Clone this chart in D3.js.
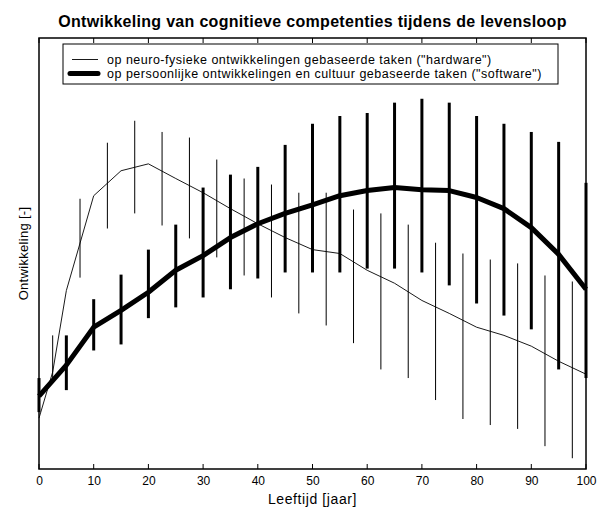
<!DOCTYPE html>
<meta charset="utf-8">
<script src="https://d3js.org/d3.v7.min.js"></script>
<style>
  body { margin: 0; background: #fff; }
  text { font-family: "Liberation Sans", Arial, sans-serif; fill: #000; }
  .title { font-size: 16px; font-weight: bold; letter-spacing: 0.3px; }
  .legend-text { font-size: 12.5px; letter-spacing: 0.5px; }
  .tick-label { font-size: 12px; }
  .axis-label { font-size: 14px; letter-spacing: 0.6px; }
</style>
<div id="chart"></div>
<script>

// software (persoonlijke ontwikkeling) - thick line, bars every 5 years
var swAges = [0, 5, 10, 15, 20, 25, 30, 35, 40, 45, 50, 55, 60, 65, 70, 75, 80, 85, 90, 95, 100];
var swMean = [16.9, 24.1, 32.9, 36.8, 41.0, 46.1, 49.5, 53.7, 56.9, 59.3, 61.3, 63.4, 64.6, 65.3, 64.8, 64.6, 63.0, 60.4, 56.0, 49.8, 41.7];
var swLow  = [13.2, 18.3, 27.5, 28.9, 35.0, 37.5, 39.8, 41.7, 44.2, 45.6, 45.6, 45.6, 46.5, 46.5, 45.6, 42.6, 38.4, 35.6, 32.4, 23.1, 21.1];
var swHigh = [21.1, 31.0, 39.4, 45.1, 50.9, 56.7, 65.3, 68.3, 70.1, 75.2, 80.1, 81.9, 82.6, 85.0, 85.9, 85.0, 81.9, 80.1, 78.2, 75.9, 66.4];

// hardware (neuro-fysieke ontwikkeling) - thin line
var hwAges = [0, 2.5, 5, 10, 15, 20, 25, 30, 35, 40, 45, 50, 55, 60, 65, 70, 75, 80, 85, 90, 95, 100];
var hwMean = [11.8, 22.5, 41.4, 63.4, 69.2, 70.8, 67.4, 64.1, 60.4, 56.9, 53.7, 50.9, 50.0, 46.1, 43.1, 39.1, 36.1, 32.9, 31.0, 28.5, 25.0, 22.0];

// hardware spreiding, drawn between the software bars
var hwBarAges = [2.5, 7.5, 12.5, 17.5, 22.5, 27.5, 32.5, 37.5, 42.5, 47.5, 52.5, 57.5, 62.5, 67.5, 72.5, 77.5, 82.5, 87.5, 92.5, 97.5];
var hwLow  = [20.4, 44.4, 55.8, 59.3, 56.5, 53.5, 49.1, 44.9, 39.8, 36.1, 33.3, 29.2, 23.1, 21.1, 16.0, 11.6, 10.2, 9.3, 5.3, 2.5];
var hwHigh = [31.0, 62.7, 75.7, 80.8, 78.2, 76.9, 71.8, 67.4, 66.0, 64.1, 64.1, 60.2, 59.3, 56.7, 52.5, 50.0, 48.6, 47.7, 44.9, 43.5];

var xTicks = [0, 10, 20, 30, 40, 50, 60, 70, 80, 90, 100];

var legendLabels = [
  'op neuro-fysieke ontwikkelingen gebaseerde taken ("hardware")',
  'op persoonlijke ontwikkelingen en cultuur gebaseerde taken ("software")'
];

var width = 605, height = 509;
var margin = {top: 38, right: 19, bottom: 40, left: 39};

var svg = d3.select("#chart")
  .append("svg")
    .attr("width", width)
    .attr("height", height);

var x = d3.scaleLinear()
  .domain([0, 100])
  .range([margin.left, width - margin.right]);

var y = d3.scaleLinear()
  .domain([0, 100])
  .range([height - margin.bottom, margin.top]);

// title
svg.append("text")
  .classed("title", true)
  .attr("x", (x(0) + x(100)) / 2)
  .attr("y", 27)
  .attr("text-anchor", "middle")
  .text("Ontwikkeling van cognitieve competenties tijdens de levensloop");

// bottom axis with labels
var xAxis = d3.axisBottom(x).tickValues(xTicks).tickSize(0).tickPadding(7);
var gx = svg.append("g")
  .attr("transform", "translate(0," + y(0) + ")")
  .call(xAxis);
gx.select(".domain").remove();
gx.selectAll("text").classed("tick-label", true).attr("font-size", null).attr("font-family", null);

// inner ticks, bottom and top
svg.append("g").selectAll("line")
  .data(xTicks)
  .enter().append("line")
    .attr("x1", function(d) { return x(d); })
    .attr("x2", function(d) { return x(d); })
    .attr("y1", y(0))
    .attr("y2", y(0) - 5)
    .attr("stroke", "#000");
svg.append("g").selectAll("line")
  .data(xTicks)
  .enter().append("line")
    .attr("x1", function(d) { return x(d); })
    .attr("x2", function(d) { return x(d); })
    .attr("y1", y(100))
    .attr("y2", y(100) + 5)
    .attr("stroke", "#000");

// hardware spread bars (thin)
svg.append("g").selectAll("line")
  .data(hwBarAges)
  .enter().append("line")
    .attr("x1", function(d) { return x(d); })
    .attr("x2", function(d) { return x(d); })
    .attr("y1", function(d, i) { return y(hwLow[i]); })
    .attr("y2", function(d, i) { return y(hwHigh[i]); })
    .attr("stroke", "#000")
    .attr("stroke-width", 1);

// hardware line
var hwLine = d3.line()
  .x(function(d, i) { return x(hwAges[i]); })
  .y(function(d) { return y(d); });
svg.append("path")
  .datum(hwMean)
  .attr("d", hwLine)
  .attr("fill", "none")
  .attr("stroke", "#000")
  .attr("stroke-width", 0.9);

// software spread bars (thick)
svg.append("g").selectAll("line")
  .data(swAges)
  .enter().append("line")
    .attr("x1", function(d) { return x(d); })
    .attr("x2", function(d) { return x(d); })
    .attr("y1", function(d, i) { return y(swLow[i]); })
    .attr("y2", function(d, i) { return y(swHigh[i]); })
    .attr("stroke", "#000")
    .attr("stroke-width", 3);

// software line
var swLine = d3.line()
  .x(function(d, i) { return x(swAges[i]); })
  .y(function(d) { return y(d); });
svg.append("path")
  .datum(swMean)
  .attr("d", swLine)
  .attr("fill", "none")
  .attr("stroke", "#000")
  .attr("stroke-width", 5)
  .attr("stroke-linejoin", "round");

// frame
svg.append("rect")
  .attr("x", x(0))
  .attr("y", y(100))
  .attr("width", x(100) - x(0))
  .attr("height", y(0) - y(100))
  .attr("fill", "none")
  .attr("stroke", "#000")
  .attr("stroke-width", 1.5);

// legend
var legend = svg.append("g").attr("transform", "translate(63,44)");
legend.append("rect")
  .attr("width", 495)
  .attr("height", 40)
  .attr("fill", "#fff")
  .attr("stroke", "#000")
  .attr("stroke-width", 1);

var legendItems = legend.selectAll(".item")
  .data(legendLabels)
  .enter().append("g")
    .attr("transform", function(d, i) { return "translate(0," + (15.5 + i * 14) + ")"; });

legendItems.append("line")
  .attr("x1", function(d, i) { return i ? 7 : 9; })
  .attr("x2", 35)
  .attr("stroke", "#000")
  .attr("stroke-width", function(d, i) { return i ? 5 : 0.9; })
  .attr("stroke-linecap", function(d, i) { return i ? "round" : "butt"; });

legendItems.append("text")
  .classed("legend-text", true)
  .attr("x", 44)
  .attr("y", 4.5)
  .text(function(d) { return d; });

// axis labels
svg.append("text")
  .classed("axis-label", true)
  .attr("x", (x(0) + x(100)) / 2)
  .attr("y", 504)
  .attr("text-anchor", "middle")
  .text("Leeftijd [jaar]");

svg.append("text")
  .classed("axis-label", true)
  .style("font-size", "13px")
  .style("letter-spacing", "0.3px")
  .attr("transform", "translate(28," + (y(0) + y(100)) / 2 + ") rotate(-90)")
  .attr("text-anchor", "middle")
  .text("Ontwikkeling [-]");

</script>
